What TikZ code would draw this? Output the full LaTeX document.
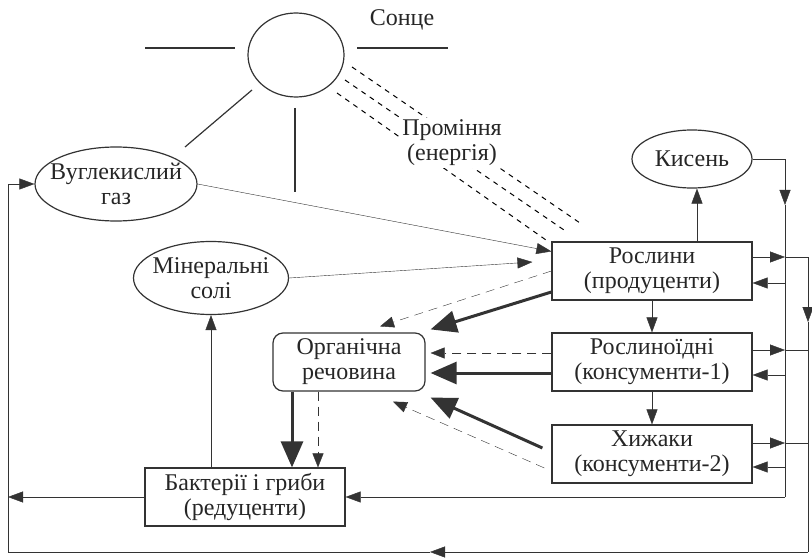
\documentclass[tikz,border=0pt]{standalone}
\usepackage{fontspec}
\setmainfont{Liberation Serif}
\usepackage{tikz}
\usetikzlibrary{shapes.geometric,arrows.meta}
\pgfdeclarelayer{bg}
\pgfsetlayers{bg,main}

\begin{document}
\begin{tikzpicture}[x=1pt,y=-1pt,line width=1.2pt,color=black!80,
        every node/.style={font=\fontsize{24}{25}\selectfont,text=black!85,align=center,inner sep=0pt},
        oval/.style={draw,ellipse,inner sep=-30pt},
        box/.style={draw,rectangle,minimum width=200pt,minimum height=58pt},
        arr/.style={-{Triangle[length=15pt,width=11pt]}},
        darr/.style={dash pattern=on 9pt off 6pt,-{Triangle[length=14pt,width=11pt]}},
        fat/.style={line width=3pt,-{Triangle[length=26pt,width=22pt]}},
        ray/.style={line width=1pt,dash pattern=on 5pt off 5pt}]
        \useasboundingbox (0,0) rectangle (812,559);
        \node (sun) [oval,minimum width=96pt,minimum height=84pt] at (296,55) {};
        \node (suntxt) at (402,20) {Сонце};
        \node (co2) [oval,minimum width=162pt,minimum height=74pt] at (116,184) {Вуглекислий\\газ};
        \node (salt) [oval,minimum width=155pt,minimum height=73pt] at (211,278) {Мінеральні\\солі};
        \node (o2) [oval,minimum width=120pt,minimum height=58pt] at (692,159) {Кисень};
        \node (pl) [box] at (652,271) {Рослини\\(продуценти)};
        \node (herb) [box] at (652,362) {Рослиноїдні\\(консументи-1)};
        \node (pred) [box] at (652,454) {Хижаки\\(консументи-2)};
        \node (org) [box,rounded corners=10pt,minimum width=152pt] at (349,362) {Органічна\\речовина};
        \node (bact) [box] at (245,497) {Бактерії і гриби\\(редуценти)};
        \node (light) [fill=white,inner sep=2pt] at (452,143) {Проміння\\(енергія)};
        \coordinate (in) at (785,0);
        \coordinate (out) at (808,0);
        \coordinate (se) at (808,552);
        \coordinate (sw) at (8,552);
        \coordinate (bot) at (430,552);
        \draw (145,48) -- (235,48);
        \draw (357,48) -- (448,48);
        \draw (252,90) -- (185,147);
        \draw (295,108) -- (295,192);
        \begin{pgfonlayer}{bg}
                \draw [ray] (352,67) -- (580,223);
                \draw [ray] (345,80) -- (564,230);
                \draw [ray] (337,93) -- (546,240);
        \end{pgfonlayer}
        \draw [arr] (co2.east) -- ([yshift=-10pt]pl.north west);
        \draw [arr] (salt.east) -- ([xshift=-19pt,yshift=9pt]pl.west);
        \draw [arr] ([xshift=45pt]pl.north) -- ([xshift=45pt]pl.north |- o2.south);
        \draw [arr] (pl) -- (herb);
        \draw [arr] (herb) -- (pred);
        \draw [arr] (salt.south |- bact.north) -- (salt.south);
        \draw [fat] ([xshift=-57pt]org.south) -- ([xshift=-57pt]org.south |- bact.north);
        \draw [darr] ([xshift=-31pt]org.south) -- ([xshift=-31pt]org.south |- bact.north);
        \draw [fat] ([yshift=-21pt]pl.west) -- ([xshift=5pt,yshift=3pt]org.north east);
        \draw [darr] (pl.west) -- ([xshift=31pt,yshift=6pt]org.north);
        \draw [darr] ([yshift=9pt]herb.west) -- ([xshift=5pt,yshift=9pt]org.east);
        \draw [fat] ([yshift=-11pt]herb.west) -- ([xshift=5pt,yshift=-11pt]org.east);
        \draw [fat] ([xshift=-9pt,yshift=6pt]pred.west) -- ([xshift=5pt,yshift=-6pt]org.south east);
        \draw [darr] ([xshift=-7pt,yshift=-14pt]pred.west) -- ([xshift=44pt,yshift=-10pt]org.south);
        \draw [arr] ([yshift=14pt]pl.east) -- ([yshift=14pt]pl.east -| in);
        \draw ([yshift=14pt]pl.east -| in) -- ([yshift=14pt]pl.east -| out);
        \draw [arr] ([yshift=12pt]herb.east) -- ([yshift=12pt]herb.east -| in);
        \draw ([yshift=12pt]herb.east -| in) -- ([yshift=12pt]herb.east -| out);
        \draw [arr] ([yshift=11pt]pred.east) -- ([yshift=11pt]pred.east -| in);
        \draw ([yshift=11pt]pred.east -| in) -- ([yshift=11pt]pred.east -| out);
        \draw [arr] ([yshift=-12pt]pl.east -| in) -- ([yshift=-12pt]pl.east);
        \draw [arr] ([yshift=-13pt]herb.east -| in) -- ([yshift=-13pt]herb.east);
        \draw [arr] ([yshift=-13pt]pred.east -| in) -- ([yshift=-13pt]pred.east);
        \draw [arr] (o2.east) -| ([yshift=-46pt]o2.east -| in);
        \draw ([yshift=-46pt]o2.east -| in) -- (in |- bact.east);
        \draw [arr] (in |- bact.east) -- (bact.east);
        \draw [arr] ([yshift=14pt]pl.east -| out) -- ([yshift=-51pt]pl.east -| out);
        \draw ([yshift=-51pt]pl.east -| out) -- (se);
        \draw [arr] (se) -- (bot);
        \draw [arr] (bot) -- (sw) |- (co2.west);
        \draw [arr] (bact.west) -- (sw |- bact.west);
\end{tikzpicture}
\end{document}
